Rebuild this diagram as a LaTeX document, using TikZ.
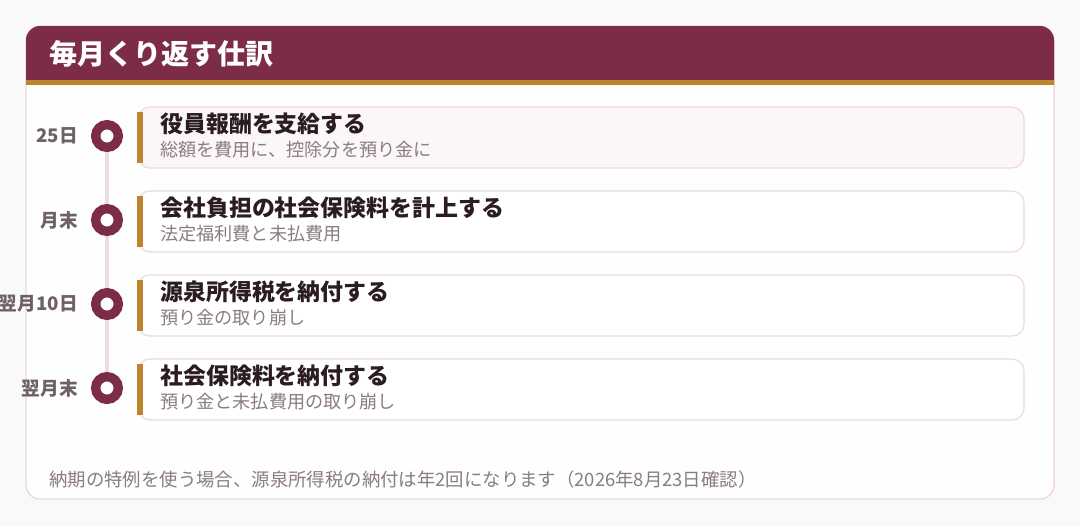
\documentclass[tikz,border=0pt]{standalone}
\usepackage{fontspec}
\setmainfont{Noto Sans CJK JP}
\definecolor{wine}{HTML}{7C2D45}
\definecolor{gold}{HTML}{BE8430}
\definecolor{railcol}{HTML}{EEDDE3}
\definecolor{edgecol}{HTML}{EDD9DF}
\definecolor{ink}{HTML}{2B1B22}
\definecolor{mute}{HTML}{8A7C82}
\definecolor{datecol}{HTML}{6E6066}
\definecolor{paper}{HTML}{F9F9FB}
\definecolor{body}{HTML}{FDFEFD}
\definecolor{blush}{HTML}{FBF6F9}
\pgfdeclarelayer{base}
\pgfdeclarelayer{rail}
\pgfsetlayers{base,rail,main}
\tikzset{
  dot/.style={circle, draw=wine, line width=7pt, fill=white, minimum size=17pt, inner sep=0pt},
  datelbl/.style={anchor=east, inner sep=0pt, text=datecol, font=\fontsize{14pt}{16pt}\selectfont\bfseries},
  ttl/.style={anchor=west, inner sep=0pt, text=ink, font=\fontsize{17.2pt}{20pt}\selectfont\bfseries},
  sub/.style={anchor=west, inner sep=0pt, text=mute, font=\fontsize{13.6pt}{16pt}\selectfont},
  note/.style={anchor=west, inner sep=0pt, text=mute, font=\fontsize{13.8pt}{16pt}\selectfont},
  head/.style={anchor=west, inner sep=0pt, text=white, font=\fontsize{21pt}{24pt}\selectfont\bfseries}
}
% name, y, card fill, date, title, subline
\def\drawStep#1#2#3#4#5#6{
\draw[edgecol, line width=0.9pt, fill=#3, rounded corners=9pt] (138,#2-29) rectangle (1024,#2+32);
\fill[gold] (137,#2-24) rectangle (143,#2+27);
\node[dot] (dot#1) at (107,#2) {};
\draw (78,#2) node[datelbl] (date#1) {#4};
\draw (160,#2-12) node[ttl] (ttl#1) {#5};
\draw (160,#2+14) node[sub] (sub#1) {#6};
}

\begin{document}
\begin{tikzpicture}[x=0.75pt, y=-0.75pt]
  \useasboundingbox (0,0) rectangle (1080,526);
  \begin{pgfonlayer}{base}
  \fill[paper] (0,0) rectangle (1080,526);
  \draw[edgecol, line width=1.1pt, fill=body, rounded corners=10.5pt] (26,26) rectangle (1054,499);
  \begin{scope}
    \clip[rounded corners=10.5pt] (26,26) rectangle (1054,499);
    \fill[wine] (20,20) rectangle (1060,80);
    \fill[gold] (20,80) rectangle (1060,85);
  \end{scope}
  \end{pgfonlayer}
  \draw (49,54) node[head] (head) {毎月くり返す仕訳};

  \drawStep{1}{136}{blush}{25日}{役員報酬を支給する}{総額を費用に、控除分を預り金に}
  \drawStep{2}{220}{white}{月末}{会社負担の社会保険料を計上する}{法定福利費と未払費用}
  \drawStep{3}{304}{white}{翌月10日}{源泉所得税を納付する}{預り金の取り崩し}
  \drawStep{4}{388}{white}{翌月末}{社会保険料を納付する}{預り金と未払費用の取り崩し}

  \begin{pgfonlayer}{rail}
  \draw[railcol, line width=3.4pt] (dot1) -- (dot4);
  \end{pgfonlayer}

  \draw (49,479) node[note] (note) {納期の特例を使う場合、源泉所得税の納付は年2回になります（2026年8月23日確認）};
\end{tikzpicture}
\end{document}
